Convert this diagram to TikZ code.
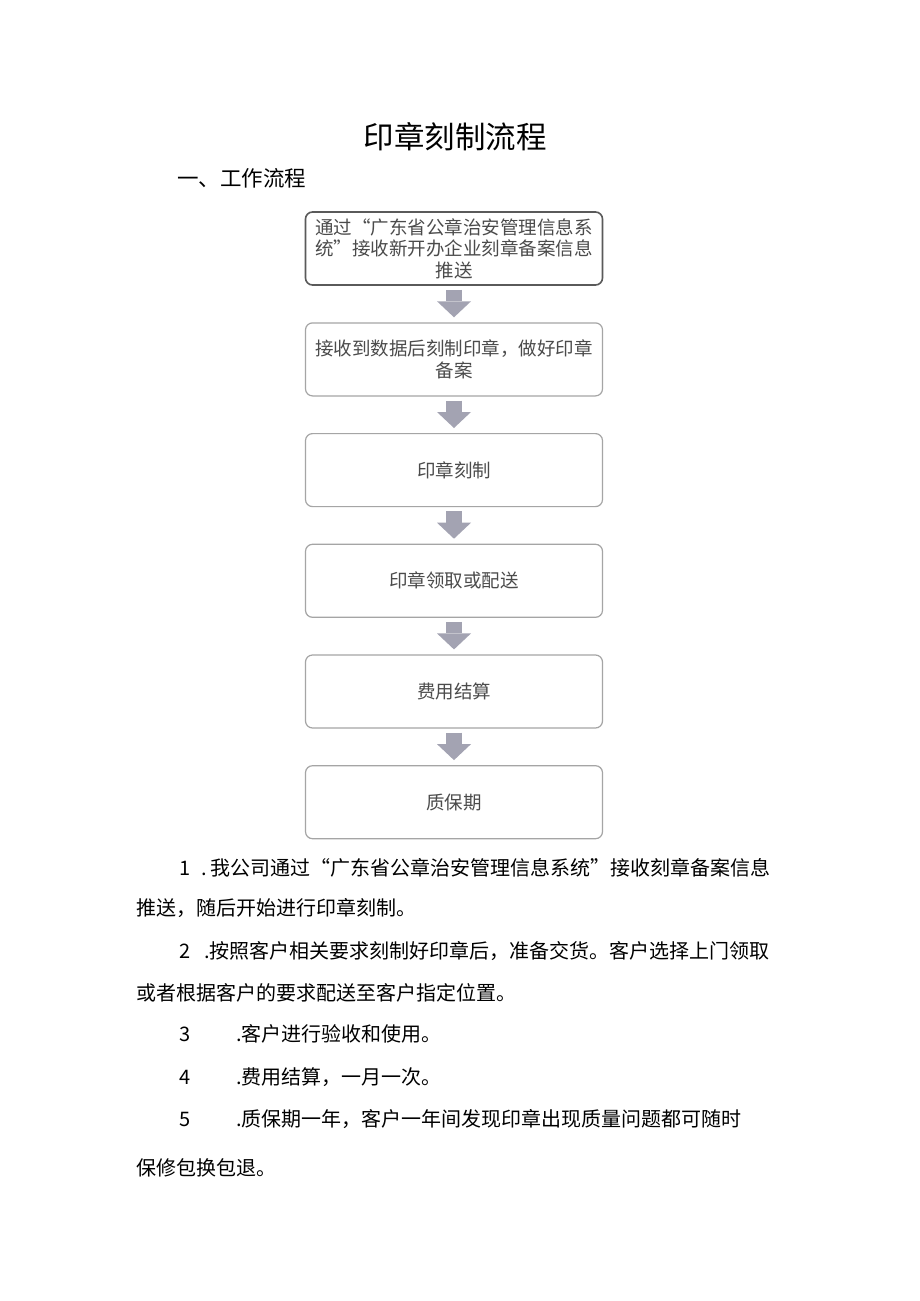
\documentclass[tikz,border=0pt]{standalone}
\usepackage{fontspec}
\setmainfont{Noto Sans CJK SC}
\usetikzlibrary{positioning, arrows.meta}

\definecolor{boxline}{RGB}{165,165,165}
\definecolor{topline}{RGB}{90,90,90}
\definecolor{arrowgray}{RGB}{163,163,178}
\definecolor{boxtext}{RGB}{75,75,75}

\tikzset{
  stepbox/.style={draw=boxline, line width=1.2pt, rounded corners=7pt,
    minimum width=297pt, minimum height=73pt, inner sep=2pt, align=center,
    text=boxtext, font=\fontsize{18.5}{21.5}\selectfont},
  flowarrow/.style={draw=arrowgray, line width=16pt,
    -{Triangle[width=34pt, length=16pt, line width=0pt]},
    shorten <=4pt, shorten >=5pt},
  bodyline/.style={anchor=base west, inner sep=0pt, font=\fontsize{20}{24}\selectfont},
}

\begin{document}
\begin{tikzpicture}[x=1pt, y=-1pt]
    \useasboundingbox[fill=white] (0,0) rectangle (920,1301);

    % title
    \node[anchor=base, inner sep=0pt, font=\fontsize{30.5}{36}\selectfont] (title) at (455,148.6) {印章刻制流程};
    \node[anchor=base west, inner sep=0pt, font=\fontsize{21.5}{26}\selectfont] (heading) at (177,186) {一、工作流程};

    % flow chart
    \node[stepbox, draw=topline, line width=1.6pt] (push) at (454,248.5) {通过“广东省公章治安管理信息系\\统”接收新开办企业刻章备案信息\\推送};
    \node[stepbox, below=36.5pt of push] (record) {接收到数据后刻制印章，做好印章\\备案};
    \node[stepbox, below=36.5pt of record] (engrave) {印章刻制};
    \node[stepbox, below=36.5pt of engrave] (deliver) {印章领取或配送};
    \node[stepbox, below=36.5pt of deliver] (settle) {费用结算};
    \node[stepbox, below=36.5pt of settle] (warranty) {质保期};

    \draw[flowarrow] (push) -- (record);
    \draw[flowarrow] (record) -- (engrave);
    \draw[flowarrow] (engrave) -- (deliver);
    \draw[flowarrow] (deliver) -- (settle);
    \draw[flowarrow] (settle) -- (warranty);

    % notes
    \node[bodyline] (item1) at (179,875.6) {1\hspace{11.5pt}.\hspace{3.5pt}我公司通过“广东省公章治安管理信息系统”接收刻章备案信息};
    \node[bodyline] (item1b) at (136.5,915.6) {推送，随后开始进行印章刻制。};
    \node[bodyline] (item2) at (179,958.6) {2\hspace{14pt}.按照客户相关要求刻制好印章后，准备交货。客户选择上门领取};
    \node[bodyline] (item2b) at (136.5,1000.6) {或者根据客户的要求配送至客户指定位置。};
    \node[bodyline] (item3) at (179,1041.6) {3\hspace{46pt}.客户进行验收和使用。};
    \node[bodyline] (item4) at (179,1084.6) {4\hspace{46pt}.费用结算，一月一次。};
    \node[bodyline] (item5) at (179,1126.6) {5\hspace{46pt}.质保期一年，客户一年间发现印章出现质量问题都可随时};
    \node[bodyline] (item5b) at (136.5,1175.6) {保修包换包退。};
\end{tikzpicture}
\end{document}
